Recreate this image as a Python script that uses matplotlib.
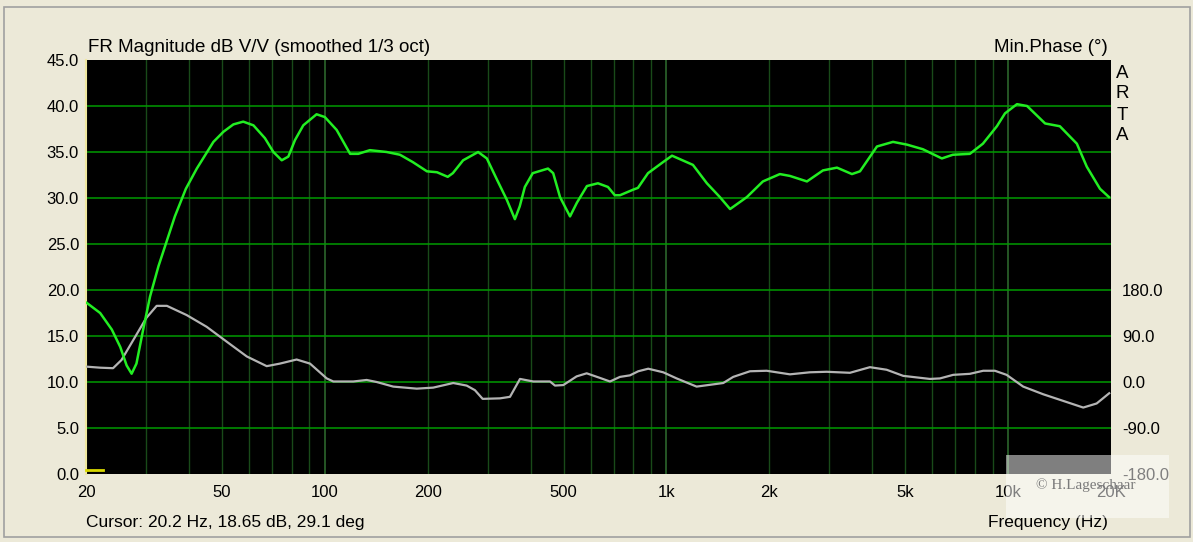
import matplotlib
matplotlib.use("Agg")
import matplotlib.pyplot as plt
from matplotlib.patches import Rectangle
from matplotlib.ticker import FixedLocator, NullFormatter, NullLocator

# ---------------- data ----------------
mag_freq = [20.1, 22.0, 23.8, 25.2, 26.3, 27.2, 28.1, 29.4, 30.8, 32.6, 34.1, 36.4,
            39.2, 42.2, 47.2, 50.5, 54.0, 57.7, 61.8, 66.8, 70.7, 74.8, 78.2, 81.8,
            86.5, 94.6, 100, 108.3, 118.6, 125.3, 135.5, 151.7, 166, 181, 199, 213,
            229, 237, 254, 281, 298, 319, 341, 360, 372, 385, 406, 450, 466, 488,
            522, 547, 585, 630, 674, 706, 731, 798, 825, 883, 977, 1038, 1195, 1313,
            1433, 1535, 1719, 1915, 2147, 2297, 2577, 2871, 3155, 3490, 3684, 4131,
            4602, 5059, 5630, 6397, 6888, 7726, 8434, 9270, 9790, 10613, 11360,
            12830, 14170, 15890, 16990, 18570, 19730]
mag_db = [18.6, 17.5, 15.7, 13.8, 11.8, 10.9, 12.0, 15.7, 19.3, 22.6, 24.8, 28.0,
          31.0, 33.2, 36.1, 37.2, 38.0, 38.3, 37.9, 36.5, 35.0, 34.1, 34.5, 36.3,
          37.9, 39.1, 38.8, 37.4, 34.8, 34.8, 35.2, 35.0, 34.7, 33.9, 32.9, 32.8,
          32.3, 32.7, 34.1, 35.0, 34.3, 32.0, 29.8, 27.7, 29.1, 31.2, 32.7, 33.2,
          32.7, 30.1, 28.0, 29.5, 31.3, 31.6, 31.2, 30.3, 30.3, 30.9, 31.1, 32.7,
          33.9, 34.6, 33.6, 31.6, 30.1, 28.8, 30.1, 31.8, 32.6, 32.4, 31.8, 33.0,
          33.3, 32.6, 32.9, 35.6, 36.1, 35.8, 35.3, 34.3, 34.7, 34.8, 35.9, 37.8,
          39.2, 40.2, 40.0, 38.1, 37.8, 35.9, 33.4, 31.0, 30.1]

phase_freq = [20.1, 22.0, 24.0, 25.4, 27.5, 30.0, 32.2, 34.5, 39.4, 45.1, 51.6, 59.1,
              67.6, 73.9, 82.7, 90.5, 101.3, 105.9, 121.2, 132.6, 141.8, 158.6,
              185.8, 207.6, 237.6, 260.1, 275.0, 289.7, 325.6, 348.3, 372.6, 407.6,
              456.1, 471.7, 498.8, 545.8, 584.0, 638.7, 683.3, 730.9, 781.7, 826.7,
              884.3, 978.1, 1071, 1225, 1466, 1568, 1755, 1964, 2298, 2629, 2943,
              3443, 3939, 4408, 4930, 5902, 6314, 6905, 7727, 8453, 9146, 9896,
              11068, 12665, 14496, 16588, 18157, 19760]
phase_deg = [30, 28, 27, 43, 82, 125, 149, 149, 131, 108, 79, 50,
             31, 36, 44, 36, 7, 1, 1, 4, 0, -9,
             -13, -11, -2, -7, -16, -33, -32, -29, 6, 1,
             1, -7, -6, 11, 17, 8, 1, 10, 13, 21,
             26, 19, 7, -9, -2, 10, 21, 22, 15, 19, 20,
             18, 29, 24, 12, 6, 7, 14, 16, 22, 22, 14,
             -9, -24, -37, -50, -42, -22]

cursor_freq = [20.0, 22.4]
cursor_db = [0.4, 0.4]

db_ticks = [0, 5, 10, 15, 20, 25, 30, 35, 40, 45]
db_labels = ["0.0", "5.0", "10.0", "15.0", "20.0", "25.0", "30.0", "35.0", "40.0", "45.0"]
phase_ticks = [-180, -90, 0, 90, 180]
phase_labels = ["-180.0", "-90.0", "0.0", "90.0", "180.0"]
freq_ticks = [20, 50, 100, 200, 500, 1000, 2000, 5000, 10000, 20000]
freq_labels = ["20", "50", "100", "200", "500", "1k", "2k", "5k", "10k", "20K"]
major_grid_freqs = [100, 1000, 10000]
minor_grid_freqs = [30, 40, 50, 60, 70, 80, 90, 200, 300, 400, 500, 600, 700, 800, 900,
                    2000, 3000, 4000, 5000, 6000, 7000, 8000, 9000]

# ---------------- figure ----------------
W, H = 1193, 542
BG = "#ECE9D8"
plt.rcParams["font.family"] = ["Liberation Sans", "DejaVu Sans"]
fig = plt.figure(figsize=(W / 100, H / 100), dpi=100, facecolor=BG)

# outer frame
fig.patches.append(Rectangle((4 / W, 1 - 537 / H), (1190 - 4) / W, (537 - 7) / H,
                             transform=fig.transFigure, fill=False,
                             edgecolor="#A0A0A0", linewidth=1.2, zorder=0))

ax = fig.add_axes([86 / W, 1 - 474 / H, (1111 - 86) / W, (474 - 60) / H])
ax.set_xscale("log")
ax.set_xlim(20, 20000)
ax.set_ylim(0, 45)

ax.xaxis.set_major_locator(FixedLocator(freq_ticks))
ax.xaxis.set_minor_locator(NullLocator())
ax.xaxis.set_minor_formatter(NullFormatter())
ax.set_xticklabels(freq_labels)
ax.set_yticks(db_ticks)
ax.set_yticklabels(db_labels)
ax.tick_params(axis="both", length=0, labelsize=12, colors="black")
ax.tick_params(axis="x", pad=8)
ax.tick_params(axis="y", pad=5)
for s in ("top", "right", "bottom"):
    ax.spines[s].set_visible(False)
ax.spines["left"].set_color("#F0E8A0")
ax.spines["left"].set_linewidth(1.5)

# phase axis
ax2 = ax.twinx()
ax2.set_ylim(-180, 630)
ax2.set_yticks(phase_ticks)
ax2.set_yticklabels(phase_labels)
ax2.tick_params(axis="y", length=0, labelsize=12, pad=8)
for s in ax2.spines.values():
    s.set_visible(False)
ax2.patch.set_visible(True)
ax2.patch.set_facecolor("black")
ax.set_zorder(ax2.get_zorder() + 1)
ax.patch.set_visible(False)

for f in minor_grid_freqs:
    ax.axvline(f, color="#194A19", lw=1.0, zorder=1)
for f in major_grid_freqs:
    ax.axvline(f, color="#2C662C", lw=1.2, zorder=1)
for d in db_ticks[1:-1]:
    ax.axhline(d, color="#009A00", lw=1.1, zorder=2)

ax.plot(phase_freq, [(p / 18.0) + 10 for p in phase_deg], color="#B4B4B4", lw=1.6, zorder=3)
ax.plot(mag_freq, mag_db, color="#22EE22", lw=1.8, zorder=4)
ax.plot(cursor_freq, cursor_db, color="#D8D800", lw=2, zorder=5, clip_on=False)

# texts
fig.text(88 / W, 1 - 52 / H, "FR Magnitude dB V/V (smoothed 1/3 oct)", fontsize=13.5,
         ha="left", va="baseline")
fig.text(1108 / W, 1 - 52 / H, "Min.Phase (°)", fontsize=13.5, ha="right", va="baseline")
for i, ch in enumerate("ARTA"):
    fig.text(1122 / W, 1 - (73 + i * 21) / H, ch, fontsize=13.5, ha="center", va="center")
fig.text(86 / W, 1 - 527 / H, "Cursor: 20.2 Hz, 18.65 dB, 29.1 deg", fontsize=12.5,
         ha="left", va="baseline")
fig.text(1108 / W, 1 - 527 / H, "Frequency (Hz)", fontsize=12.5, ha="right", va="baseline")

# watermark overlay
fig.patches.append(Rectangle((1006 / W, 1 - 518 / H), (1169 - 1006) / W, (518 - 455) / H,
                             transform=fig.transFigure, facecolor="white", alpha=0.5,
                             edgecolor="none", zorder=20))
fig.text(1086 / W, 1 - 485 / H, "© H.Lageschaar", fontsize=11, color="#7A7A7A",
         family=["Liberation Serif", "DejaVu Serif"], ha="center", va="center", zorder=21)

fig.savefig("out.png", dpi=100, facecolor=BG)
